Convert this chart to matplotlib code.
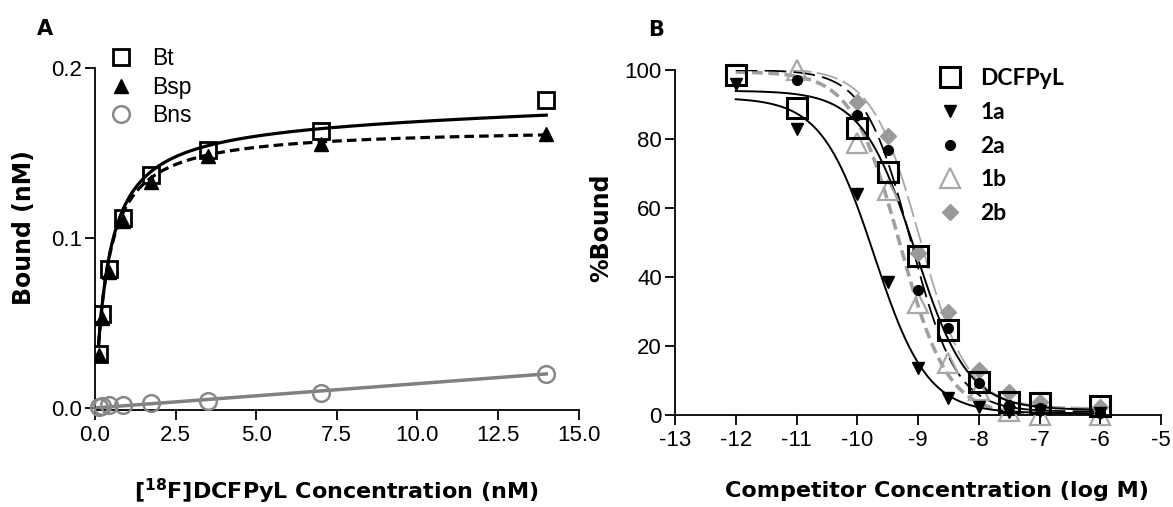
import numpy as np
import matplotlib
matplotlib.use("Agg")
import matplotlib.pyplot as plt
from matplotlib.lines import Line2D

plt.rcParams["font.family"] = ["Liberation Sans", "DejaVu Sans"]

NAN = float("nan")

# ---- Panel A: saturation binding ----
conc_nm = [0.11, 0.22, 0.44, 0.875, 1.75, 3.5, 7.0, 14.0]
bound_total = [0.032, 0.055, 0.082, 0.112, 0.137, 0.152, 0.163, 0.181]
bound_specific = [0.031, 0.053, 0.080, 0.110, 0.133, 0.148, 0.155, 0.161]
bound_nonspecific = [0.0005, 0.001, 0.0015, 0.002, 0.003, 0.004, 0.009, 0.020]

# fitted model parameters (one-site binding)
BT_BMAX, BT_KD, BT_NS = 0.170, 0.40, 0.0005
BSP_BMAX, BSP_KD = 0.165, 0.38
BNS_SLOPE = 0.00143

# ---- Panel B: competition curves ----
log_conc = [-12, -11, -10, -9.5, -9, -8.5, -8, -7.5, -7, -6]
pct_dcfpyl = [98.5, 89, 83.3, 70.5, 46, 24.6, 9.5, 3.9, 3.4, 2.5]
pct_1a = [95.8, 83, 64, 38.6, 13.5, 4.8, 2.4, 1.0, 1.2, 0.5]
pct_2a = [NAN, 97, 87, 76.8, 36.2, 25.1, 9.2, 2.9, 2.0, 0.5]
pct_1b = [NAN, 100, 78.7, 65.2, 32.4, 15, 7.2, 1.2, 0.0, 0.0]
pct_2b = [NAN, NAN, 90.8, 81, 47, 30, 13, 6.8, 3.9, 2.4]

# fitted sigmoid parameters: (top, bottom, logIC50, hill)
FIT_DCFPYL = (94.0, 1.5, -9.05, 1.0)
FIT_1A = (92.0, 0.5, -9.72, 1.0)
FIT_2A = (100.0, 1.0, -9.12, 1.15)
FIT_1B = (99.5, 0.0, -9.30, 1.1)
FIT_2B = (100.5, 2.0, -8.97, 1.1)

W, H = 1173, 507
fig = plt.figure(figsize=(W / 100, H / 100), dpi=100)


def px_axes(left, top, right, bottom):
    return fig.add_axes([left / W, 1 - bottom / H, (right - left) / W, (bottom - top) / H])


def style_axes(ax):
    for side in ("top", "right"):
        ax.spines[side].set_visible(False)
    for side in ("left", "bottom"):
        ax.spines[side].set_linewidth(1.3)
    ax.tick_params(direction="out", length=7.5, width=1.3, labelsize=16)
    ax.tick_params(axis="x", pad=3)
    ax.tick_params(axis="y", pad=2)


def sigmoid(x, top, bottom, logic50, hill):
    return bottom + (top - bottom) / (1 + 10 ** ((x - logic50) * hill))


# ---------------- Panel A ----------------
axA = px_axes(95, 68, 578.5, 410)
style_axes(axA)
xfit = np.linspace(conc_nm[0], conc_nm[-1], 400)
axA.plot(xfit, BT_BMAX * xfit / (BT_KD + xfit) + BT_NS * xfit, color="black", lw=2.3, zorder=3)
axA.plot(xfit, BSP_BMAX * xfit / (BSP_KD + xfit), color="black", lw=2.3, ls=(0, (3, 1.6)), zorder=3)
xl = np.array([0.0, conc_nm[-1]])
axA.plot(xl, BNS_SLOPE * xl, color="#808080", lw=2.5, zorder=2)

axA.plot(conc_nm, bound_specific, ls="none", marker="^", ms=10.5, color="black", zorder=4)
axA.plot(conc_nm, bound_total, ls="none", marker="s", ms=12, mfc="none", mec="black", mew=2.0, zorder=5)
axA.plot(conc_nm, bound_nonspecific, ls="none", marker="o", ms=12, mfc="none", mec="#888888", mew=1.8,
         zorder=4, clip_on=False)

axA.set_xlim(0, 15)
axA.set_ylim(-0.0012, 0.2)
axA.set_xticks([0, 2.5, 5, 7.5, 10, 12.5, 15])
axA.set_xticklabels(["0.0", "2.5", "5.0", "7.5", "10.0", "12.5", "15.0"])
axA.set_yticks([0, 0.1, 0.2])
axA.set_yticklabels(["0.0", "0.1", "0.2"])

handlesA = [
    Line2D([], [], ls="none", marker="s", ms=12, mfc="none", mec="black", mew=2.0),
    Line2D([], [], ls="none", marker="^", ms=10.5, color="black"),
    Line2D([], [], ls="none", marker="o", ms=12, mfc="none", mec="#888888", mew=1.8),
]
fig.legend(handlesA, ["Bt", "Bsp", "Bns"], loc="upper left", bbox_to_anchor=(110 / W, 1 - 47 / H),
           frameon=False, fontsize=16.5, handlelength=1.0, handletextpad=0.85, labelspacing=0.25,
           borderpad=0, borderaxespad=0)

fig.text(24 / W, 1 - 228 / H, "Bound (nM)", rotation=90, ha="center", va="center",
         fontsize=17, fontweight="bold", family="DejaVu Sans")
fig.text(336 / W, 1 - 491 / H, r"[$^{\mathbf{18}}$F]DCFPyL Concentration (nM)", ha="center", va="center",
         fontsize=16, fontweight="bold", family="DejaVu Sans")
fig.text(45 / W, 1 - 29 / H, "A", ha="center", va="center", fontsize=15, fontweight="bold",
         family="DejaVu Sans")

# ---------------- Panel B ----------------
axB = px_axes(675, 70, 1161, 415)
style_axes(axB)
lx = np.linspace(-12, -6, 400)
axB.plot(lx, sigmoid(lx, *FIT_1B), color="#a0a0a0", lw=2.6, ls=(0, (3, 1.5)), zorder=2)
axB.plot(lx, sigmoid(lx, *FIT_2B), color="#a8a8a8", lw=1.3, ls=(0, (12, 3)), zorder=2)
axB.plot(lx, sigmoid(lx, *FIT_2A), color="black", lw=1.3, ls=(0, (12, 4)), zorder=3)
axB.plot(lx, sigmoid(lx, *FIT_DCFPYL), color="black", lw=1.4, zorder=3)
axB.plot(lx, sigmoid(lx, *FIT_1A), color="black", lw=1.4, zorder=3)

axB.plot(log_conc, pct_1b, ls="none", marker="^", ms=15, mfc="none", mec="#a8a8a8", mew=1.6, zorder=4,
         clip_on=False)
axB.plot(log_conc, pct_2b, ls="none", marker="D", ms=8, color="#9a9a9a", zorder=4, clip_on=False)
axB.plot(log_conc, pct_2a, ls="none", marker="o", ms=7, color="black", zorder=5, clip_on=False)
axB.plot(log_conc, pct_1a, ls="none", marker="v", ms=8.5, color="black", zorder=5, clip_on=False)
axB.plot(log_conc, pct_dcfpyl, ls="none", marker="s", ms=15, mfc="none", mec="black", mew=2.2, zorder=6,
         clip_on=False)

axB.set_xlim(-13, -5)
axB.set_ylim(0, 100)
axB.set_xticks(range(-13, -4))
axB.set_xticklabels([str(v) for v in range(-13, -4)])
axB.set_yticks([0, 20, 40, 60, 80, 100])

handlesB = [
    Line2D([], [], ls="none", marker="s", ms=15, mfc="none", mec="black", mew=2.2),
    Line2D([], [], ls="none", marker="v", ms=8.5, color="black"),
    Line2D([], [], ls="none", marker="o", ms=7, color="black"),
    Line2D([], [], ls="none", marker="^", ms=15, mfc="none", mec="#a8a8a8", mew=1.6),
    Line2D([], [], ls="none", marker="D", ms=8, color="#9a9a9a"),
]
fig.legend(handlesB, ["DCFPyL", "1a", "2a", "1b", "2b"], loc="upper left",
           bbox_to_anchor=(937 / W, 1 - 68 / H), frameon=False,
           prop={"family": "Lato", "weight": "bold", "size": 16.5},
           handlelength=1.1, handletextpad=0.8, labelspacing=0.56, borderpad=0, borderaxespad=0)

fig.text(601 / W, 1 - 228 / H, "%Bound", rotation=90, ha="center", va="center",
         fontsize=17, fontweight="bold", family="DejaVu Sans")
fig.text(937 / W, 1 - 491 / H, "Competitor Concentration (log M)", ha="center", va="center",
         fontsize=16, fontweight="bold", family="DejaVu Sans")
fig.text(656 / W, 1 - 30 / H, "B", ha="center", va="center", fontsize=15, fontweight="bold",
         family="DejaVu Sans")

fig.savefig("out.png", dpi=100)
